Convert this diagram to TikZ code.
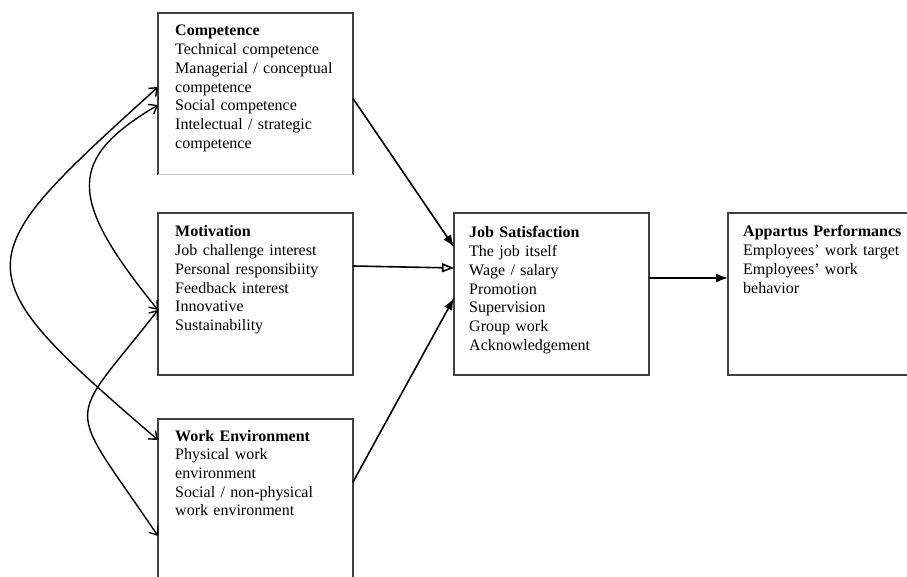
\documentclass[tikz,border=0pt]{standalone}
\usepackage{fontspec}
\setmainfont{Liberation Serif}
\usetikzlibrary{arrows.meta,calc}
\begin{document}
\begin{tikzpicture}[x=1pt,y=-1pt,
  box/.style={minimum width=195pt, minimum height=162pt, inner sep=0pt, outer sep=0pt, anchor=north west},
  boxline/.style={draw=black!75, line width=1.3pt},
  txt/.style={anchor=base west, text width=190pt, align=left, inner sep=0pt, font=\fontsize{16}{18.7}\selectfont},
  link/.style={line width=1.6pt, -{Latex[length=12pt,width=9pt]}},
  linkopen/.style={line width=1.6pt, -{Triangle[open,length=12pt,width=9pt]}},
  corr/.style={line width=1.4pt, {Straight Barb[length=7pt,width=11pt]}-{Straight Barb[length=7pt,width=11pt]}}]
\useasboundingbox (0,0) rectangle (907,577);
\fill[white] (0,0) rectangle (907,577);
\clip (0,0) rectangle (907,577);

% boxes
\node[box] (comp) at (158,13) {};
\node[box] (mot) at (158,213) {};
\node[box] (work) at (158,419) {};
\node[box] (js) at (454,213) {};
\node[box] (app) at (728,213) {};

\draw[boxline] (comp.south west) -- (comp.north west) -- (comp.north east) -- (comp.south east);
\draw[draw=black!20, line width=1pt] (comp.south west) -- (comp.south east);
\draw[boxline] (mot.north west) rectangle (mot.south east);
\draw[boxline] (work.north west) rectangle (work.south east);
\draw[boxline] (js.north west) rectangle (js.south east);
\draw[boxline] (app.north west) rectangle (app.south east);

% texts
\node[txt] (compT) at ($(comp.north west)+(17,23)$) {\textbf{Competence}\\Technical competence\\Managerial / conceptual\\competence\\Social competence\\Intelectual / strategic\\competence};
\node[txt] (motT) at ($(mot.north west)+(17,24)$) {\textbf{Motivation}\\Job challenge interest\\Personal responsibiity\\Feedback interest\\Innovative\\Sustainability};
\node[txt] (workT) at ($(work.north west)+(17,22)$) {\textbf{Work Environment}\\Physical work\\environment\\Social / non-physical\\work environment};
\node[txt] (jsT) at ($(js.north west)+(15,25)$) {\textbf{Job Satisfaction}\\The job itself\\Wage / salary\\Promotion\\Supervision\\Group work\\Acknowledgement};
\node[txt] (appT) at ($(app.north west)+(15,24)$) {\textbf{Appartus Performancs}\\Employees' work target\\Employees' work\\behavior};

% arrows to job satisfaction
\draw[link] ([yshift=-4.5pt]comp.east) -- ([yshift=47pt]js.west);
\draw[linkopen] ([yshift=28pt]mot.east) -- ([yshift=26pt]js.west);
\draw[link] ([yshift=18pt]work.east) -- ([yshift=-4pt]js.west);
\draw[link] ([yshift=16pt]js.east) -- ([yshift=16pt]app.west);

% correlations
\draw[corr] ([yshift=7pt]comp.west) .. controls (-35,262) and (-42,268) .. ([yshift=60pt]work.west);
\draw[corr] ([yshift=-11pt]comp.west) .. controls (67,159) and (67,198) .. ([yshift=-16pt]mot.west);
\draw[corr] ([yshift=-16pt]mot.west) .. controls (65,429) and (64,397) .. ([yshift=-36pt]work.west);
\end{tikzpicture}
\end{document}
